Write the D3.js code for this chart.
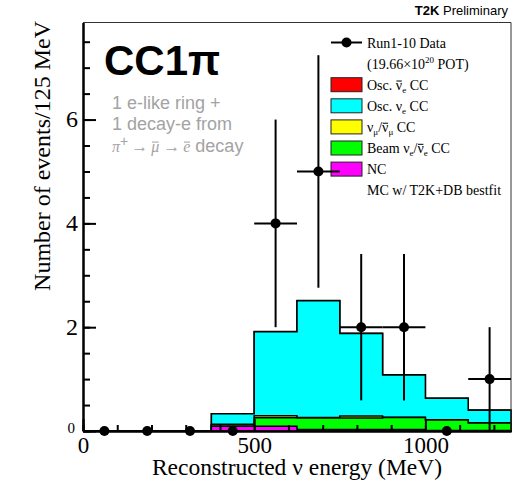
<!DOCTYPE html>
<html>
<head>
<meta charset="utf-8">
<script src="https://cdn.jsdelivr.net/npm/d3@7"></script>
<style>
body { margin: 0; background: #fff; }
svg { display: block; }
</style>
</head>
<body>
<svg id="chart" width="529" height="482"></svg>
<script>
// bin edges in MeV (125 MeV per bin)
var binEdges = [0, 125, 250, 375, 500, 625, 750, 875, 1000, 1125, 1250];

// MC prediction per bin (stack order: bottom -> top)
var mcNC        = [0, 0, 0, 0.09, 0.09, 0.03, 0.03, 0.03, 0.01, 0.01];
var mcBeamNue   = [0, 0, 0, 0.03, 0.165, 0.22, 0.22, 0.23, 0.20, 0.145];
var mcNumu      = [0, 0, 0, 0.01, 0.04, 0.01, 0.04, 0.005, 0.005, 0.005];
var mcOscNue    = [0, 0, 0, 0.20, 1.615, 2.25, 1.59, 0.815, 0.415, 0.24];
var mcOscNuebar = [0, 0, 0, 0.003, 0.005, 0.005, 0.005, 0.003, 0.003, 0.003];

// observed events
var dataCounts = [0, 0, 0, 0, 4, 5, 2, 2, 0, 1];
var dataErrors = [0, 0, 0, 0, 2, 2.24, 1.41, 1.41, 0, 1];

var xTickLabels = [0, 500, 1000];
var yTickLabels = [0, 2, 4, 6];

var stackKeys = ['nc', 'beam', 'numu', 'osc', 'oscbar'];
var stackColors = {nc: '#ff00ff', beam: '#00ff00', numu: '#ffff00', osc: '#00ffff', oscbar: '#ff0000'};

var svg = d3.select('#chart');
var margin = {top: 22.5, bottom: 51, left: 83, right: 18};
var width = 529 - margin.left - margin.right;
var height = 482 - margin.top - margin.bottom;

var x = d3.scaleLinear().domain([0, 1250]).range([margin.left, margin.left + width]);
var y = d3.scaleLinear().domain([0, 7.87]).range([margin.top + height, margin.top]);

var serif = '"Liberation Serif", "Times New Roman", serif';
var sans = '"Liberation Sans", Arial, Helvetica, sans-serif';

// table for the stack
var rows = [];
for (var i = 0; i < dataCounts.length; i++) {
    rows.push({
        x0: binEdges[i], x1: binEdges[i + 1],
        nc: mcNC[i], beam: mcBeamNue[i], numu: mcNumu[i],
        osc: mcOscNue[i], oscbar: mcOscNuebar[i]
    });
}
var series = d3.stack().keys(stackKeys)(rows);

// histogram step path from 0 up to cumulative value
var line = d3.line().x(function(p) { return x(p[0]); }).y(function(p) { return y(p[1]); });
function stepPoints(s) {
    var pts = [[binEdges[0], 0]];
    s.forEach(function(d, j) {
        pts.push([binEdges[j], d[1]]);
        pts.push([binEdges[j + 1], d[1]]);
    });
    pts.push([binEdges[binEdges.length - 1], 0]);
    return pts;
}

var histG = svg.append('g').attr('class', 'stack');
// ROOT draws the biggest cumulative first
series.slice().reverse().forEach(function(s) {
    histG.append('path')
        .attr('d', line(stepPoints(s)) + 'Z')
        .attr('fill', stackColors[s.key])
        .attr('stroke', '#000')
        .attr('stroke-width', 1.5)
        .attr('stroke-linejoin', 'miter');
});

// frame (top and right thin)
svg.append('path')
    .attr('d', 'M' + x(0) + ',' + y.range()[1] + 'H' + x(1250) + 'V' + y(0))
    .attr('fill', 'none')
    .attr('stroke', '#333')
    .attr('stroke-width', 1);

// axes
var yMinor = svg.append('g')
    .attr('transform', 'translate(' + margin.left + ',0)')
    .call(d3.axisLeft(y).ticks(16).tickSize(-7).tickSizeOuter(0).tickFormat(''));
var yMajor = svg.append('g')
    .attr('transform', 'translate(' + margin.left + ',0)')
    .call(d3.axisLeft(y).tickValues(yTickLabels).tickSize(-13).tickSizeOuter(0).tickPadding(5));
var xMinor = svg.append('g')
    .attr('transform', 'translate(0,' + y(0) + ')')
    .call(d3.axisBottom(x).ticks(12).tickSize(-6).tickSizeOuter(0).tickFormat(''));
var xMajor = svg.append('g')
    .attr('transform', 'translate(0,' + y(0) + ')')
    .call(d3.axisBottom(x).tickValues(xTickLabels).tickFormat(d3.format('d'))
        .tickSize(-12).tickSizeOuter(0).tickPadding(6));

[yMinor, yMajor, xMinor, xMajor].forEach(function(a) {
    a.selectAll('.domain').attr('stroke', '#000').attr('stroke-width', 2);
    a.selectAll('.tick line').attr('stroke', '#000').attr('stroke-width', 2);
});
yMajor.selectAll('.tick text')
    .attr('font-family', serif).attr('font-size', 24).attr('fill', '#000')
    .attr('dy', '0.3em');
yMajor.selectAll('.tick text').filter(function(d) { return d === 0; })
    .attr('font-size', 15).attr('x', -8).attr('dy', '0.1em');
xMajor.selectAll('.tick text')
    .attr('font-family', serif).attr('font-size', 23).attr('fill', '#000')
    .attr('dy', '0.68em');

// axis titles
svg.append('text')
    .attr('transform', 'translate(50,21) rotate(-90)')
    .attr('text-anchor', 'end')
    .attr('font-family', serif)
    .attr('font-size', 24)
    .text('Number of events/125 MeV');
svg.append('text')
    .attr('x', x(625))
    .attr('y', 475)
    .attr('text-anchor', 'middle')
    .attr('font-family', serif)
    .attr('font-size', 23.5)
    .text('Reconstructed \u03bd energy (MeV)');

// helper: lays pieces of text one after another, with sub/superscripts and bars
function richText(parent, x0, y0, pieces, anchor) {
    var g = parent.append('g');
    var cx = 0;
    pieces.forEach(function(p) {
        var size = p.size || 14;
        var t = g.append('text')
            .attr('x', cx)
            .attr('y', p.dy || 0)
            .attr('font-family', p.family || serif)
            .attr('font-size', size)
            .attr('font-weight', p.weight || 'normal')
            .attr('font-style', p.style || 'normal')
            .attr('fill', p.fill || '#000')
            .style('white-space', 'pre')
            .text(p.t);
        var w = t.node().getComputedTextLength();
        if (p.bar) {
            var by = (p.dy || 0) - size * 0.62;
            g.append('line')
                .attr('x1', cx + w * 0.1).attr('x2', cx + w * 0.95)
                .attr('y1', by).attr('y2', by)
                .attr('stroke', p.fill || '#000')
                .attr('stroke-width', 1);
        }
        cx += w + (p.gap || 0);
    });
    var shift = anchor === 'end' ? -cx : 0;
    g.attr('transform', 'translate(' + (x0 + shift) + ',' + y0 + ')');
    return g;
}

// T2K Preliminary
richText(svg, 508, 15, [
    {t: 'T2K', family: sans, size: 13, weight: 'bold'},
    {t: ' Preliminary', family: sans, size: 13}
], 'end');

// CC1pi title and selection description
svg.append('text')
    .attr('x', 104).attr('y', 75)
    .attr('font-family', sans).attr('font-size', 42).attr('font-weight', 'bold')
    .text('CC1\u03c0');
var gray = '#a3a3a3';
svg.append('text').attr('x', 112).attr('y', 109)
    .attr('font-family', sans).attr('font-size', 18).attr('fill', gray)
    .text('1 e-like ring +');
svg.append('text').attr('x', 112).attr('y', 130)
    .attr('font-family', sans).attr('font-size', 18).attr('fill', gray)
    .text('1 decay-e from');
richText(svg, 112, 152, [
    {t: '\u03c0', style: 'italic', size: 16, fill: gray},
    {t: '+', size: 14, dy: -6, fill: gray, family: sans, gap: 3},
    {t: '\u2192', size: 17, fill: gray, family: serif, gap: 3},
    {t: '\u03bc', style: 'italic', size: 16, fill: gray, bar: true, gap: 4},
    {t: '\u2192', size: 17, fill: gray, family: serif, gap: 3},
    {t: 'e', style: 'italic', size: 16, fill: gray, bar: true},
    {t: ' decay', family: sans, size: 18, fill: gray}
]);

// legend
var legX = 331, legBoxW = 31, legBoxH = 14, legTextX = 367;
var legRowY = function(k) { return 42.5 + 21.1 * k; };
var legG = svg.append('g').attr('class', 'legend');

var sub = function(s) { return {t: s, size: 9, dy: 3}; };
var legendRows = [
    {marker: true, pieces: [{t: 'Run1-10 Data'}]},
    {pieces: [{t: '(19.66\u00d710'}, {t: '20', size: 9, dy: -6}, {t: ' POT)'}]},
    {color: stackColors.oscbar, pieces: [{t: 'Osc. '}, {t: '\u03bd', bar: true}, sub('e'), {t: ' CC'}]},
    {color: stackColors.osc, pieces: [{t: 'Osc. \u03bd'}, sub('e'), {t: ' CC'}]},
    {color: stackColors.numu, pieces: [{t: '\u03bd'}, sub('\u03bc'), {t: '/'}, {t: '\u03bd', bar: true}, sub('\u03bc'), {t: ' CC'}]},
    {color: stackColors.beam, pieces: [{t: 'Beam \u03bd'}, sub('e'), {t: '/'}, {t: '\u03bd', bar: true}, sub('e'), {t: ' CC'}]},
    {color: stackColors.nc, pieces: [{t: 'NC'}]},
    {pieces: [{t: 'MC w/ T2K+DB bestfit'}]}
];

legendRows.forEach(function(r, k) {
    var cy = legRowY(k);
    if (r.color) {
        legG.append('rect')
            .attr('x', legX).attr('y', cy - legBoxH / 2)
            .attr('width', legBoxW).attr('height', legBoxH)
            .attr('fill', r.color)
            .attr('stroke', '#222').attr('stroke-width', 1);
    }
    if (r.marker) {
        legG.append('line')
            .attr('x1', legX).attr('x2', legX + legBoxW)
            .attr('y1', cy).attr('y2', cy)
            .attr('stroke', '#000').attr('stroke-width', 2);
        legG.append('circle')
            .attr('cx', legX + legBoxW / 2).attr('cy', cy).attr('r', 5)
            .attr('fill', '#000');
    }
    richText(legG, legTextX, cy + 5, r.pieces);
});

// data points with error bars
var dataG = svg.append('g').attr('class', 'data');
dataCounts.forEach(function(n, j) {
    var xc = (binEdges[j] + binEdges[j + 1]) / 2;
    dataG.append('line')
        .attr('x1', x(binEdges[j])).attr('x2', x(binEdges[j + 1]))
        .attr('y1', y(n)).attr('y2', y(n))
        .attr('stroke', '#000').attr('stroke-width', 2);
    if (dataErrors[j] > 0) {
        dataG.append('line')
            .attr('x1', x(xc)).attr('x2', x(xc))
            .attr('y1', y(n - dataErrors[j])).attr('y2', y(n + dataErrors[j]))
            .attr('stroke', '#000').attr('stroke-width', 2);
    }
    dataG.append('circle')
        .attr('cx', x(xc)).attr('cy', y(n)).attr('r', 5)
        .attr('fill', '#000');
});
</script>
</body>
</html>
